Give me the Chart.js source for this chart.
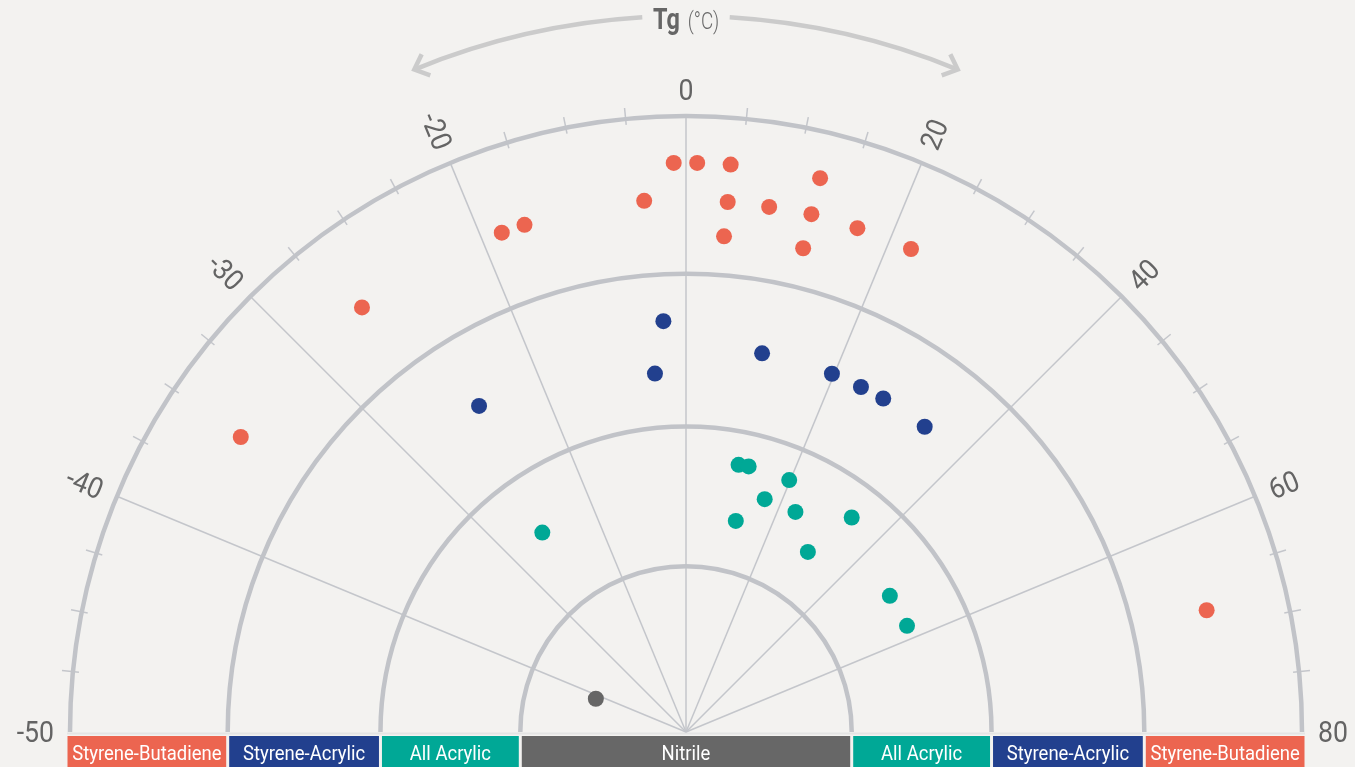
<!DOCTYPE html>
<html>
<head>
<meta charset="utf-8">
<script src="https://cdn.jsdelivr.net/npm/chart.js@4"></script>
<style>
html,body{margin:0;padding:0;background:#f3f2f0;overflow:hidden;}
#wrap{width:1355px;height:767px;position:relative;}
</style>
</head>
<body>
<div id="wrap"><canvas id="c"></canvas></div>
<script>
// ---- Angular axis: Tg tick labels (8 equal sectors) ----
const tgTicks = [-50, -40, -30, -20, 0, 20, 40, 60, 80];
const spokeTicks = [-40, -30, -20, 0, 20, 40, 60];
const axisTitle = 'Tg';
const axisUnit = '(°C)';

// ---- Radial bands (radial units, outer edge of each band) ----
const bandNames = ['Nitrile', 'All Acrylic', 'Styrene-Acrylic', 'Styrene-Butadiene'];
const bandEdges = [26.9, 49.6, 74.4, 100];
const bandColors = ['#676767', '#00a896', '#22408e', '#ec6550'];

// ---- Series: Tg (°C) and radial position ----
const sbTg = [-1.1, 1.0, 4.0, 12.1, -4.0, 4.0, 8.0, 12.1, 16.7, 3.9, 12.1, 22.2, -18.0, -15.7, -26.6, -35.1, 68.3];
const sbR  = [92.4, 92.4, 92.4, 92.5, 86.5, 86.3, 86.3, 86.5, 86.4, 80.7, 80.8, 86.5, 86.4, 86.4, 86.7, 86.7, 86.8];

const saTg = [-2.8, 10.1, -4.4, 19.7, 23.9, 27.2, 33.8, -24.4];
const saR  = [66.8, 62.7, 58.4, 62.8, 62.8, 62.9, 62.9, 62.7];

const aaTg = [9.9, 11.8, 19.8, 16.6, 23.5, 11.8, 33.5, -25.9, 30.3, 50.0, 57.2];
const aaR  = [44.2, 44.3, 44.2, 39.9, 39.9, 35.2, 44.0, 39.9, 35.3, 39.8, 39.8];

const nbrTg = [-41.0];
const nbrR  = [15.6];

// ---- Geometry (layout) ----
const W = 1355, H = 767, CX = 686, CY = 732, RPX = 616;
const UPP = 100 / RPX; // radial units per pixel

function tgToAngle(t) {
  const n = tgTicks.length - 1;
  for (let i = 0; i < n; i++) {
    const a = tgTicks[i], b = tgTicks[i + 1];
    if (t <= b || i === n - 1) {
      const f = (t - a) / (b - a);
      return (180 - (i + f) * 180 / n) * Math.PI / 180;
    }
  }
}
function toXY(tgs, rs) {
  return tgs.map((t, i) => {
    const a = tgToAngle(t);
    return { x: rs[i] * Math.cos(a), y: rs[i] * Math.sin(a) };
  });
}

const FONT = 'Roboto, "Noto Sans", "Liberation Sans", sans-serif';

function drawScaledText(ctx, text, x, y, sx, align) {
  ctx.save();
  ctx.translate(x, y);
  ctx.scale(sx, 1);
  ctx.textAlign = align || 'center';
  ctx.fillText(text, 0, 0);
  ctx.restore();
}

const polarGrid = {
  id: 'polarGrid',
  beforeDraw(chart) {
    const ctx = chart.ctx;
    ctx.save();
    ctx.fillStyle = '#f3f2f0';
    ctx.fillRect(0, 0, chart.width, chart.height);
    ctx.restore();
  },
  beforeDatasetsDraw(chart) {
    const { ctx, scales: { x, y } } = chart;
    const cx = x.getPixelForValue(0), cy = y.getPixelForValue(0);
    const ppu = x.getPixelForValue(1) - cx;
    const R = 100 * ppu;
    const n = tgTicks.length - 1;
    ctx.save();

    // baseline
    ctx.strokeStyle = '#e4e4e4';
    ctx.lineWidth = 2;
    ctx.beginPath();
    ctx.moveTo(cx - R - 3, cy + 1.5);
    ctx.lineTo(cx + R + 3, cy + 1.5);
    ctx.stroke();

    // spokes
    ctx.strokeStyle = '#c4c6cb';
    ctx.lineWidth = 1.5;
    spokeTicks.forEach(t => {
      const a = tgToAngle(t);
      ctx.beginPath();
      ctx.moveTo(cx, cy);
      ctx.lineTo(cx + R * Math.cos(a), cy - R * Math.sin(a));
      ctx.stroke();
    });

    // minor ticks on outer ring
    for (let i = 0; i < n; i++) {
      for (let k = 1; k < 4; k++) {
        const a = (180 - (i + k / 4) * 180 / n) * Math.PI / 180;
        ctx.beginPath();
        ctx.moveTo(cx + (R - 6) * Math.cos(a), cy - (R - 6) * Math.sin(a));
        ctx.lineTo(cx + (R + 11) * Math.cos(a), cy - (R + 11) * Math.sin(a));
        ctx.stroke();
      }
    }

    // rings
    ctx.strokeStyle = '#c1c3c8';
    ctx.lineWidth = 4.5;
    bandEdges.forEach(e => {
      ctx.beginPath();
      ctx.arc(cx, cy, e * ppu, Math.PI, 0, false);
      ctx.stroke();
    });

    // bottom band bar
    const barTop = cy + 4, barBot = chart.height;
    ctx.font = '21px ' + FONT;
    const edges = [0].concat(bandEdges);
    for (let b = 0; b < bandNames.length; b++) {
      const r0 = edges[b] * ppu, r1 = edges[b + 1] * ppu;
      const outer = (b === bandNames.length - 1) ? r1 + 2.5 : r1 - 1.5;
      ctx.fillStyle = bandColors[b];
      if (b === 0) {
        ctx.fillRect(cx - outer, barTop, 2 * outer, barBot - barTop);
        ctx.fillStyle = '#ffffff';
        drawScaledText(ctx, bandNames[b], cx, barBot - 7, 0.88);
      } else {
        const inner = r0 + 1.5;
        ctx.fillRect(cx - outer, barTop, outer - inner, barBot - barTop);
        ctx.fillRect(cx + inner, barTop, outer - inner, barBot - barTop);
        ctx.fillStyle = '#ffffff';
        drawScaledText(ctx, bandNames[b], cx - (inner + outer) / 2, barBot - 7, 0.88);
        drawScaledText(ctx, bandNames[b], cx + (inner + outer) / 2, barBot - 7, 0.88);
      }
    }

    // tick labels
    const fs = 29;
    ctx.font = fs + 'px ' + FONT;
    ctx.fillStyle = '#646464';
    ctx.textAlign = 'center';
    ctx.textBaseline = 'alphabetic';
    tgTicks.forEach(t => {
      const a = tgToAngle(t);
      const deg = a * 180 / Math.PI;
      const label = String(t);
      const w = ctx.measureText(label).width * 0.92;
      let rot, rc;
      if (Math.abs(deg - 90) < 0.01) { rot = 0; rc = R + 16 + 0.711 * fs / 2; }
      else { rot = deg > 90 ? (180 - deg) : -deg; rc = R + 16 + w / 2; }
      ctx.save();
      ctx.translate(cx + rc * Math.cos(a), cy - rc * Math.sin(a));
      ctx.rotate(rot * Math.PI / 180);
      ctx.scale(0.92, 1);
      ctx.fillText(label, 0, 0.711 * fs / 2);
      ctx.restore();
    });

    // title arrow arc
    const ra = 716;
    const gap = 3.5 * Math.PI / 180, span = 22.3 * Math.PI / 180;
    ctx.strokeStyle = '#cbcbcb';
    ctx.lineWidth = 4.5;
    ctx.lineCap = 'butt';
    ctx.beginPath();
    ctx.arc(cx, cy, ra, -Math.PI / 2 - span, -Math.PI / 2 - gap, false);
    ctx.stroke();
    ctx.beginPath();
    ctx.arc(cx, cy, ra, -Math.PI / 2 + gap, -Math.PI / 2 + span, false);
    ctx.stroke();
    [Math.PI / 2 + span, Math.PI / 2 - span].forEach((th, idx) => {
      const tx = cx + ra * Math.cos(th), ty = cy - ra * Math.sin(th);
      const dir = idx === 0 ? [-Math.sin(th), -Math.cos(th)] : [Math.sin(th), Math.cos(th)];
      const back = Math.atan2(-dir[1], -dir[0]);
      const L = 17, spread = 42 * Math.PI / 180;
      ctx.beginPath();
      ctx.moveTo(tx + L * Math.cos(back + spread), ty + L * Math.sin(back + spread));
      ctx.lineTo(tx, ty);
      ctx.lineTo(tx + L * Math.cos(back - spread), ty + L * Math.sin(back - spread));
      ctx.lineJoin = 'miter';
      ctx.stroke();
    });

    // title text
    ctx.fillStyle = '#666666';
    ctx.font = 'bold 30px ' + FONT;
    const s1 = 0.78, s2 = 0.82;
    const w1 = ctx.measureText(axisTitle).width * s1;
    ctx.font = '300 23px ' + FONT;
    const w2 = ctx.measureText(axisUnit).width * s2;
    const gp = 8, total = w1 + gp + w2;
    const left = cx - total / 2;
    ctx.font = 'bold 30px ' + FONT;
    drawScaledText(ctx, axisTitle, left, 28.5, s1, 'left');
    ctx.font = '300 23px ' + FONT;
    ctx.fillStyle = '#6a6a6a';
    drawScaledText(ctx, axisUnit, left + w1 + gp, 28.5, s2, 'left');

    ctx.restore();
  }
};

const mk = (label, tg, r, color) => ({
  label, data: toXY(tg, r),
  backgroundColor: color, borderWidth: 0,
  pointRadius: 8, pointHoverRadius: 8
});

new Chart(document.getElementById('c'), {
  type: 'scatter',
  data: {
    datasets: [
      mk('Styrene-Butadiene', sbTg, sbR, bandColors[3]),
      mk('Styrene-Acrylic', saTg, saR, bandColors[2]),
      mk('All Acrylic', aaTg, aaR, bandColors[1]),
      mk('Nitrile', nbrTg, nbrR, '#666666')
    ]
  },
  options: {
    responsive: true,
    maintainAspectRatio: false,
    animation: false,
    events: [],
    layout: { padding: 0, autoPadding: false },
    plugins: { legend: { display: false }, tooltip: { enabled: false } },
    scales: {
      x: { type: 'linear', display: false, min: -CX * UPP, max: (W - CX) * UPP },
      y: { type: 'linear', display: false, min: -(H - CY) * UPP, max: CY * UPP }
    }
  },
  plugins: [polarGrid]
});
</script>
</body>
</html>
